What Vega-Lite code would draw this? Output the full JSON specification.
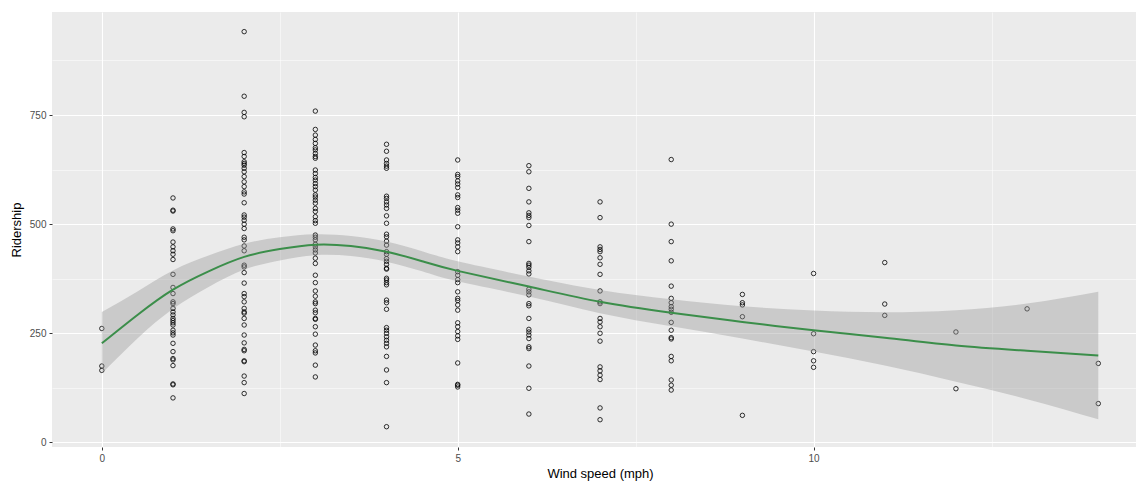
{
  "$schema": "https://vega.github.io/schema/vega-lite/v6.json",
  "width": 1084,
  "height": 435,
  "autosize": {"type": "none"},
  "padding": {"left": 52, "top": 12, "right": 0, "bottom": 34},
  "background": "white",
  "datasets": {
    "pts": [
      {"wind": 0, "riders": 261}, {"wind": 0, "riders": 175}, {"wind": 0, "riders": 165},
      {"wind": 1, "riders": 560}, {"wind": 1, "riders": 532}, {"wind": 1, "riders": 530}, {"wind": 1, "riders": 489}, {"wind": 1, "riders": 485}, {"wind": 1, "riders": 459}, {"wind": 1, "riders": 448}, {"wind": 1, "riders": 439}, {"wind": 1, "riders": 431}, {"wind": 1, "riders": 419}, {"wind": 1, "riders": 385}, {"wind": 1, "riders": 355}, {"wind": 1, "riders": 341}, {"wind": 1, "riders": 322}, {"wind": 1, "riders": 318}, {"wind": 1, "riders": 307}, {"wind": 1, "riders": 299}, {"wind": 1, "riders": 292}, {"wind": 1, "riders": 284}, {"wind": 1, "riders": 279}, {"wind": 1, "riders": 274}, {"wind": 1, "riders": 269}, {"wind": 1, "riders": 257}, {"wind": 1, "riders": 251}, {"wind": 1, "riders": 246}, {"wind": 1, "riders": 227}, {"wind": 1, "riders": 208}, {"wind": 1, "riders": 192}, {"wind": 1, "riders": 189}, {"wind": 1, "riders": 176}, {"wind": 1, "riders": 134}, {"wind": 1, "riders": 132}, {"wind": 1, "riders": 102},
      {"wind": 2, "riders": 941}, {"wind": 2, "riders": 793}, {"wind": 2, "riders": 756}, {"wind": 2, "riders": 746}, {"wind": 2, "riders": 664}, {"wind": 2, "riders": 655}, {"wind": 2, "riders": 643}, {"wind": 2, "riders": 639}, {"wind": 2, "riders": 635}, {"wind": 2, "riders": 628}, {"wind": 2, "riders": 620}, {"wind": 2, "riders": 609}, {"wind": 2, "riders": 597}, {"wind": 2, "riders": 586}, {"wind": 2, "riders": 574}, {"wind": 2, "riders": 569}, {"wind": 2, "riders": 549}, {"wind": 2, "riders": 521}, {"wind": 2, "riders": 516}, {"wind": 2, "riders": 509}, {"wind": 2, "riders": 500}, {"wind": 2, "riders": 490}, {"wind": 2, "riders": 470}, {"wind": 2, "riders": 464}, {"wind": 2, "riders": 450}, {"wind": 2, "riders": 439}, {"wind": 2, "riders": 406}, {"wind": 2, "riders": 402}, {"wind": 2, "riders": 389}, {"wind": 2, "riders": 365}, {"wind": 2, "riders": 341}, {"wind": 2, "riders": 334}, {"wind": 2, "riders": 322}, {"wind": 2, "riders": 307}, {"wind": 2, "riders": 299}, {"wind": 2, "riders": 296}, {"wind": 2, "riders": 284}, {"wind": 2, "riders": 269}, {"wind": 2, "riders": 246}, {"wind": 2, "riders": 228}, {"wind": 2, "riders": 213}, {"wind": 2, "riders": 210}, {"wind": 2, "riders": 187}, {"wind": 2, "riders": 185}, {"wind": 2, "riders": 152}, {"wind": 2, "riders": 137}, {"wind": 2, "riders": 112},
      {"wind": 3, "riders": 759}, {"wind": 3, "riders": 717}, {"wind": 3, "riders": 704}, {"wind": 3, "riders": 694}, {"wind": 3, "riders": 685}, {"wind": 3, "riders": 675}, {"wind": 3, "riders": 670}, {"wind": 3, "riders": 662}, {"wind": 3, "riders": 655}, {"wind": 3, "riders": 651}, {"wind": 3, "riders": 624}, {"wind": 3, "riders": 616}, {"wind": 3, "riders": 607}, {"wind": 3, "riders": 601}, {"wind": 3, "riders": 593}, {"wind": 3, "riders": 586}, {"wind": 3, "riders": 578}, {"wind": 3, "riders": 567}, {"wind": 3, "riders": 562}, {"wind": 3, "riders": 555}, {"wind": 3, "riders": 548}, {"wind": 3, "riders": 536}, {"wind": 3, "riders": 529}, {"wind": 3, "riders": 517}, {"wind": 3, "riders": 508}, {"wind": 3, "riders": 502}, {"wind": 3, "riders": 475}, {"wind": 3, "riders": 470}, {"wind": 3, "riders": 464}, {"wind": 3, "riders": 454}, {"wind": 3, "riders": 448}, {"wind": 3, "riders": 441}, {"wind": 3, "riders": 434}, {"wind": 3, "riders": 422}, {"wind": 3, "riders": 410}, {"wind": 3, "riders": 383}, {"wind": 3, "riders": 366}, {"wind": 3, "riders": 347}, {"wind": 3, "riders": 335}, {"wind": 3, "riders": 322}, {"wind": 3, "riders": 318}, {"wind": 3, "riders": 303}, {"wind": 3, "riders": 297}, {"wind": 3, "riders": 284}, {"wind": 3, "riders": 282}, {"wind": 3, "riders": 265}, {"wind": 3, "riders": 248}, {"wind": 3, "riders": 223}, {"wind": 3, "riders": 210}, {"wind": 3, "riders": 205}, {"wind": 3, "riders": 177}, {"wind": 3, "riders": 150},
      {"wind": 4, "riders": 683}, {"wind": 4, "riders": 667}, {"wind": 4, "riders": 647}, {"wind": 4, "riders": 639}, {"wind": 4, "riders": 633}, {"wind": 4, "riders": 628}, {"wind": 4, "riders": 564}, {"wind": 4, "riders": 559}, {"wind": 4, "riders": 551}, {"wind": 4, "riders": 544}, {"wind": 4, "riders": 536}, {"wind": 4, "riders": 519}, {"wind": 4, "riders": 502}, {"wind": 4, "riders": 477}, {"wind": 4, "riders": 471}, {"wind": 4, "riders": 461}, {"wind": 4, "riders": 452}, {"wind": 4, "riders": 437}, {"wind": 4, "riders": 431}, {"wind": 4, "riders": 421}, {"wind": 4, "riders": 415}, {"wind": 4, "riders": 408}, {"wind": 4, "riders": 399}, {"wind": 4, "riders": 397}, {"wind": 4, "riders": 376}, {"wind": 4, "riders": 372}, {"wind": 4, "riders": 366}, {"wind": 4, "riders": 361}, {"wind": 4, "riders": 326}, {"wind": 4, "riders": 320}, {"wind": 4, "riders": 305}, {"wind": 4, "riders": 263}, {"wind": 4, "riders": 257}, {"wind": 4, "riders": 250}, {"wind": 4, "riders": 242}, {"wind": 4, "riders": 234}, {"wind": 4, "riders": 227}, {"wind": 4, "riders": 219}, {"wind": 4, "riders": 197}, {"wind": 4, "riders": 166}, {"wind": 4, "riders": 137}, {"wind": 4, "riders": 36},
      {"wind": 5, "riders": 647}, {"wind": 5, "riders": 614}, {"wind": 5, "riders": 609}, {"wind": 5, "riders": 599}, {"wind": 5, "riders": 592}, {"wind": 5, "riders": 584}, {"wind": 5, "riders": 567}, {"wind": 5, "riders": 561}, {"wind": 5, "riders": 538}, {"wind": 5, "riders": 532}, {"wind": 5, "riders": 525}, {"wind": 5, "riders": 494}, {"wind": 5, "riders": 464}, {"wind": 5, "riders": 457}, {"wind": 5, "riders": 448}, {"wind": 5, "riders": 437}, {"wind": 5, "riders": 391}, {"wind": 5, "riders": 383}, {"wind": 5, "riders": 373}, {"wind": 5, "riders": 366}, {"wind": 5, "riders": 345}, {"wind": 5, "riders": 330}, {"wind": 5, "riders": 325}, {"wind": 5, "riders": 315}, {"wind": 5, "riders": 303}, {"wind": 5, "riders": 274}, {"wind": 5, "riders": 265}, {"wind": 5, "riders": 254}, {"wind": 5, "riders": 244}, {"wind": 5, "riders": 236}, {"wind": 5, "riders": 182}, {"wind": 5, "riders": 133}, {"wind": 5, "riders": 131}, {"wind": 5, "riders": 127},
      {"wind": 6, "riders": 634}, {"wind": 6, "riders": 620}, {"wind": 6, "riders": 582}, {"wind": 6, "riders": 551}, {"wind": 6, "riders": 526}, {"wind": 6, "riders": 520}, {"wind": 6, "riders": 515}, {"wind": 6, "riders": 497}, {"wind": 6, "riders": 460}, {"wind": 6, "riders": 410}, {"wind": 6, "riders": 406}, {"wind": 6, "riders": 401}, {"wind": 6, "riders": 393}, {"wind": 6, "riders": 386}, {"wind": 6, "riders": 351}, {"wind": 6, "riders": 345}, {"wind": 6, "riders": 338}, {"wind": 6, "riders": 318}, {"wind": 6, "riders": 313}, {"wind": 6, "riders": 284}, {"wind": 6, "riders": 259}, {"wind": 6, "riders": 253}, {"wind": 6, "riders": 246}, {"wind": 6, "riders": 238}, {"wind": 6, "riders": 219}, {"wind": 6, "riders": 215}, {"wind": 6, "riders": 175}, {"wind": 6, "riders": 124}, {"wind": 6, "riders": 65},
      {"wind": 7, "riders": 551}, {"wind": 7, "riders": 515}, {"wind": 7, "riders": 448}, {"wind": 7, "riders": 442}, {"wind": 7, "riders": 437}, {"wind": 7, "riders": 423}, {"wind": 7, "riders": 408}, {"wind": 7, "riders": 385}, {"wind": 7, "riders": 347}, {"wind": 7, "riders": 322}, {"wind": 7, "riders": 318}, {"wind": 7, "riders": 284}, {"wind": 7, "riders": 276}, {"wind": 7, "riders": 265}, {"wind": 7, "riders": 250}, {"wind": 7, "riders": 232}, {"wind": 7, "riders": 173}, {"wind": 7, "riders": 164}, {"wind": 7, "riders": 154}, {"wind": 7, "riders": 144}, {"wind": 7, "riders": 79}, {"wind": 7, "riders": 52},
      {"wind": 8, "riders": 648}, {"wind": 8, "riders": 500}, {"wind": 8, "riders": 460}, {"wind": 8, "riders": 416}, {"wind": 8, "riders": 358}, {"wind": 8, "riders": 330}, {"wind": 8, "riders": 320}, {"wind": 8, "riders": 311}, {"wind": 8, "riders": 305}, {"wind": 8, "riders": 298}, {"wind": 8, "riders": 275}, {"wind": 8, "riders": 257}, {"wind": 8, "riders": 240}, {"wind": 8, "riders": 237}, {"wind": 8, "riders": 197}, {"wind": 8, "riders": 187}, {"wind": 8, "riders": 143}, {"wind": 8, "riders": 131}, {"wind": 8, "riders": 120},
      {"wind": 9, "riders": 339}, {"wind": 9, "riders": 320}, {"wind": 9, "riders": 315}, {"wind": 9, "riders": 288}, {"wind": 9, "riders": 62},
      {"wind": 10, "riders": 387}, {"wind": 10, "riders": 249}, {"wind": 10, "riders": 208}, {"wind": 10, "riders": 187}, {"wind": 10, "riders": 172},
      {"wind": 11, "riders": 412}, {"wind": 11, "riders": 317}, {"wind": 11, "riders": 291},
      {"wind": 12, "riders": 253}, {"wind": 12, "riders": 123},
      {"wind": 13, "riders": 306},
      {"wind": 14, "riders": 181}, {"wind": 14, "riders": 89}
    ],
    "fit": [
      {"wind": 0, "fit": 227, "lo": 158, "hi": 299},
      {"wind": 0.5, "fit": 292, "lo": 238, "hi": 346},
      {"wind": 1, "fit": 350, "lo": 306, "hi": 394},
      {"wind": 1.5, "fit": 392, "lo": 356, "hi": 428},
      {"wind": 2, "fit": 425, "lo": 396, "hi": 455},
      {"wind": 2.5, "fit": 443, "lo": 417, "hi": 470},
      {"wind": 3, "fit": 453, "lo": 429, "hi": 477},
      {"wind": 3.5, "fit": 450, "lo": 427, "hi": 473},
      {"wind": 4, "fit": 437, "lo": 414, "hi": 460},
      {"wind": 4.5, "fit": 415, "lo": 392, "hi": 438},
      {"wind": 5, "fit": 393, "lo": 369, "hi": 415},
      {"wind": 6, "fit": 357, "lo": 334, "hi": 380},
      {"wind": 7, "fit": 322, "lo": 296, "hi": 349},
      {"wind": 8, "fit": 297, "lo": 266, "hi": 328},
      {"wind": 9, "fit": 276, "lo": 238, "hi": 312},
      {"wind": 10, "fit": 257, "lo": 208, "hi": 302},
      {"wind": 11, "fit": 240, "lo": 176, "hi": 298},
      {"wind": 12, "fit": 222, "lo": 139, "hi": 303},
      {"wind": 13, "fit": 210, "lo": 99, "hi": 318},
      {"wind": 14, "fit": 199, "lo": 53, "hi": 345}
    ]
  },
  "layer": [
    {
      "data": {"name": "pts"},
      "mark": {"type": "point", "shape": "circle", "filled": false, "color": "black", "size": 20, "strokeWidth": 0.8, "opacity": 1},
      "encoding": {
        "x": {"field": "wind", "type": "quantitative", "title": "Wind speed (mph)",
              "scale": {"domain": [-0.7, 14.53], "nice": false, "zero": false},
              "axis": {"orient": "bottom", "values": [0, 5, 10], "grid": true, "gridColor": "white", "gridWidth": 1.1, "titleX": 548}},
        "y": {"field": "riders", "type": "quantitative", "title": "Ridership",
              "scale": {"domain": [-10.5, 986], "nice": false, "zero": false},
              "axis": {"orient": "left", "values": [0, 250, 500, 750], "grid": true, "gridColor": "white", "gridWidth": 1.1}}
      }
    },
    {
      "data": {"name": "fit"},
      "mark": {"type": "area", "interpolate": "natural", "fill": "#999999", "opacity": 0.4},
      "encoding": {
        "x": {"field": "wind", "type": "quantitative",
              "axis": {"orient": "top", "values": [2.5, 7.5, 12.5], "grid": true, "gridColor": "white", "gridWidth": 0.5, "labels": false, "ticks": false, "domain": false, "title": null}},
        "y": {"field": "lo", "type": "quantitative",
              "axis": {"orient": "right", "values": [125, 375, 625, 875], "grid": true, "gridColor": "white", "gridWidth": 0.5, "labels": false, "ticks": false, "domain": false, "title": null}},
        "y2": {"field": "hi"}
      }
    },
    {
      "data": {"name": "fit"},
      "mark": {"type": "line", "interpolate": "natural", "stroke": "#3B8E4A", "strokeWidth": 2},
      "encoding": {
        "x": {"field": "wind", "type": "quantitative", "axis": null},
        "y": {"field": "fit", "type": "quantitative", "axis": null}
      }
    }
  ],
  "resolve": {"axis": {"x": "independent", "y": "independent"}},
  "config": {
    "view": {"fill": "#EBEBEB", "stroke": null},
    "axis": {
      "domain": false,
      "labelFont": "Liberation Sans",
      "labelFontSize": 10,
      "labelColor": "#4D4D4D",
      "tickColor": "#333333",
      "tickSize": 3,
      "tickWidth": 1,
      "labelPadding": 3,
      "titleFont": "Liberation Sans",
      "titleFontSize": 13,
      "titleFontWeight": "normal",
      "titleColor": "black",
      "gridOpacity": 1
    },
    "axisX": {"titlePadding": 4},
    "axisY": {"titlePadding": 6}
  }
}
